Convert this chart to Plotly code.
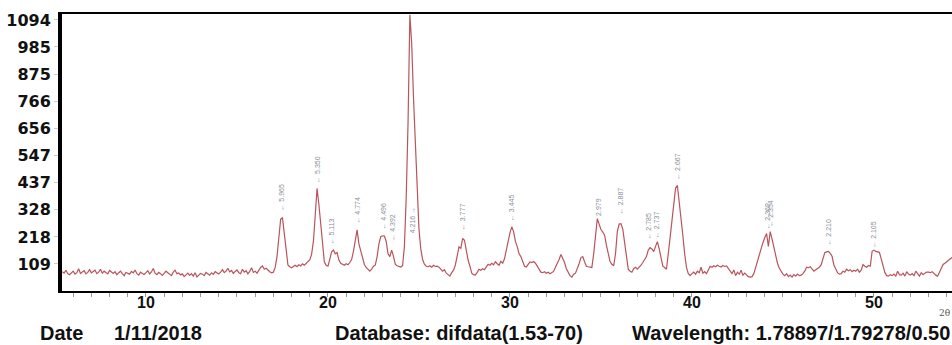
import numpy as np
import plotly.graph_objects as go

# ---------------- data ----------------
start_2theta = 5.4
step_2theta = 0.1
intensity = [
    78, 72, 84, 70, 66, 75,                              # 5.4-5.9
    80, 68, 74, 90, 71, 77, 82, 69, 75, 86,              # 6
    73, 79, 84, 70, 76, 88, 72, 80, 74, 69,              # 7
    83, 76, 71, 78, 66, 74, 80, 70, 62, 75,              # 8
    72, 68, 79, 73, 85, 70, 64, 76, 71, 67,              # 9
    74, 82, 69, 77, 91, 72, 66, 75, 70, 63,              # 10
    71, 80, 74, 68, 62, 76, 84, 70, 73, 65,              # 11
    69, 58, 66, 72, 63, 70, 60, 74, 57, 65,              # 12
    71, 68, 62, 75, 70, 64, 73, 67, 78, 72,              # 13
    69, 76, 86, 74, 80, 92, 77, 83, 71, 79,              # 14
    85, 74, 70, 88, 76, 82, 69, 79, 94, 75,              # 15
    80, 72, 86, 95, 101, 88, 92, 84, 78, 73,             # 16
    76, 95, 140, 215, 290, 295, 235, 160, 105, 98,       # 17
    94, 99, 104, 98, 106, 101, 110, 104, 112, 118,       # 18
    125, 148, 200, 305, 414, 350, 270, 175, 118, 104,    # 19
    100, 128, 158, 165, 150, 155, 125, 112, 108, 104,    # 20
    110, 106, 115, 127, 160, 205, 247, 190, 160, 125,    # 21
    107, 95, 86, 80, 88, 100, 104, 139, 190, 219,        # 22
    223, 222, 200, 150, 139, 165, 140, 107, 102, 100,    # 23
    97, 102, 180, 380, 680, 1115, 1000, 780, 580, 390,   # 24
    250, 170, 127, 108, 100, 98, 102, 96, 104, 99,       # 25
    100, 96, 88, 80, 86, 72, 66, 60, 74, 84,             # 26
    105, 150, 178, 172, 212, 205, 160, 125, 100, 72,     # 27
    66, 64, 75, 88, 84, 90, 86, 100, 108, 104,           # 28
    112, 106, 118, 110, 104, 120, 112, 130, 160, 200,    # 29
    235, 259, 240, 200, 179, 150, 139, 115, 100, 97,     # 30
    108, 117, 115, 119, 112, 100, 84, 76, 74, 78,        # 31
    72, 76, 70, 74, 79, 96, 110, 127, 147, 130,          # 32
    115, 90, 76, 62, 56, 68, 72, 88, 110, 135,           # 33
    139, 118, 100, 98, 96, 95, 150, 230, 292, 270,       # 34
    248, 238, 225, 185, 150, 119, 108, 102, 150, 240,    # 35
    270, 272, 250, 200, 130, 88, 80, 76, 90, 96,         # 36
    88, 95, 104, 115, 127, 139, 165, 175, 170, 159,      # 37
    180, 199, 170, 140, 100, 95, 88, 150, 215, 285,      # 38
    360, 415, 426, 365, 310, 225, 150, 95, 70, 62,       # 39
    70, 76, 68, 80, 74, 96, 72, 78, 70, 84,              # 40
    100, 96, 102, 98, 104, 100, 97, 103, 99, 101,        # 41
    92, 80, 70, 85, 62, 76, 68, 84, 64, 72,              # 42
    64, 58, 56, 58, 70, 95, 127, 150, 172, 195,          # 43
    215, 232, 180, 240, 210, 175, 140, 112, 92, 80,      # 44
    68, 62, 70, 58, 64, 56, 66, 60, 68, 62,              # 45
    64, 70, 80, 96, 94, 98, 88, 80, 86, 90,              # 46
    96, 105, 130, 155, 158, 160, 152, 140, 105, 88,      # 47
    74, 68, 70, 80, 76, 88, 82, 86, 78, 84,              # 48
    80, 88, 76, 84, 107, 100, 96, 103, 100, 160,         # 49
    165, 160, 158, 156, 130, 100, 75, 62, 60, 66,        # 50
    62, 68, 60, 80, 66, 64, 72, 60, 78, 68,              # 51
    64, 70, 62, 80, 68, 60, 74, 66, 72, 76,              # 52
    76, 74, 78, 70, 64, 60, 74, 88, 107, 112,            # 53
    119, 125, 130, 135,                                  # 54.0-54.3
]
two_theta = np.round(start_2theta + step_2theta * np.arange(len(intensity)), 2)

y_tick_labels = ["109", "218", "328", "437", "547", "656", "766", "875", "985", "1094"]
x_tick_values = [10, 20, 30, 40, 50]

peak_label_pos = [17.47, 19.42, 20.2, 21.65, 23.0, 23.55, 24.62, 27.4, 30.1,
                  34.85, 36.05, 37.62, 38.05, 39.2, 44.1, 44.3, 47.5, 50.0]
peak_label_base = [318, 428, 178, 262, 240, 195, 225, 238, 275,
                   296, 300, 200, 205, 440, 240, 250, 175, 168]
peak_label_text = ["← 5.965", "← 5.350", "← 5.113", "← 4.774", "← 4.496", "← 4.392",
                   "4.216 →", "← 3.777", "← 3.445", "2.979", "← 2.887", "← 2.785",
                   "← 2.737", "← 2.667", "← 2.369", "← 2.354", "← 2.210", "← 2.105"]

footer_texts = ["Date", "1/11/2018", "Database: difdata(1.53-70)",
                "Wavelength: 1.78897/1.79278/0.50"]
footer_x = [-0.027, 0.0562, 0.3045, 0.638]

# ---------------- figure ----------------
fig = go.Figure()
fig.add_trace(go.Scatter(
    x=two_theta, y=intensity, mode="lines",
    line=dict(color="#b9545b", width=1.2),
    hoverinfo="skip", showlegend=False,
))

annotations = []
for xp, yb, txt in zip(peak_label_pos, peak_label_base, peak_label_text):
    annotations.append(dict(
        x=xp, y=yb, xref="x", yref="y", text=txt, showarrow=False,
        textangle=-90, xanchor="center", yanchor="bottom",
        font=dict(family="Liberation Sans", size=7, color="#8a8f98"),
    ))

# x tick labels (placed closer to the axis than plotly's default)
for xv in x_tick_values:
    annotations.append(dict(
        x=xv, y=-0.043, xref="x", yref="paper", text=str(xv), showarrow=False,
        xanchor="center", yanchor="middle",
        font=dict(family="Liberation Sans", size=16, color="#111111", weight="bold"),
    ))

for xp, txt in zip(footer_x, footer_texts):
    annotations.append(dict(
        x=xp, y=-0.152, xref="paper", yref="paper", text=txt, showarrow=False,
        xanchor="left", yanchor="middle",
        font=dict(family="Liberation Sans", size=20, color="#111111", weight="bold"),
    ))

annotations.append(dict(
    x=0.992, y=-0.079, xref="paper", yref="paper", text="2θ", showarrow=False,
    xanchor="center", yanchor="middle",
    font=dict(family="DejaVu Serif", size=9, color="#555555"),
))

fig.update_layout(
    width=952, height=345,
    margin=dict(l=62, r=0, t=14, b=54),
    paper_bgcolor="white", plot_bgcolor="white",
    annotations=annotations,
    xaxis=dict(
        range=[5.385, 54.29], tickmode="array", tickvals=x_tick_values,
        showticklabels=False,
        showline=True, linewidth=2, linecolor="#000000", mirror=True,
        ticks="outside", ticklen=4, tickcolor="#999999", tickwidth=1,
        minor=dict(dtick=1, ticks="outside", ticklen=4, tickcolor="#999999", tickwidth=1),
        showgrid=False, zeroline=False,
    ),
    yaxis=dict(
        range=[0, 1118], tickmode="array",
        tickvals=[float(t) for t in y_tick_labels], ticktext=y_tick_labels,
        showline=True, linewidth=4, linecolor="#000000",
        ticks="outside", ticklen=4, tickcolor="#cccccc", tickwidth=1,
        showgrid=False, zeroline=False,
        tickfont=dict(family="DejaVu Sans", size=16, color="#111111", weight="bold"),
    ),
)

fig.write_html("out.html")
